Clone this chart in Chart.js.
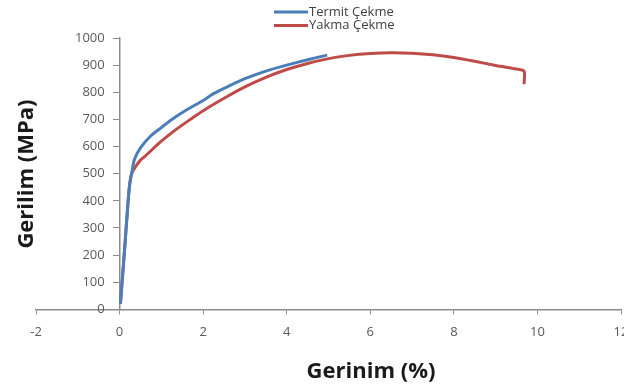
<!DOCTYPE html>
<html>
<head>
<meta charset="utf-8">
<script src="https://cdn.jsdelivr.net/npm/chart.js"></script>
<style>
  html, body { margin: 0; padding: 0; background: #fff; overflow: hidden; }
  #wrap { position: relative; width: 640px; height: 391px; }
</style>
</head>
<body>
<div id="wrap"><canvas id="chart"></canvas></div>
<script>
// Strain (%) / stress (MPa)
const termitStrain = [0.02, 0.12, 0.21, 0.25, 0.3, 0.35, 0.5, 0.75, 1.0, 1.25, 1.6, 2.0, 2.25, 2.6, 3.0, 3.5, 4.0, 4.5, 4.97];
const termitStress = [20, 220, 410, 470, 510, 550, 595, 640, 670, 700, 735, 770, 795, 822, 850, 878, 900, 920, 937];

const yakmaStrain = [0.02, 0.12, 0.21, 0.25, 0.3, 0.4, 0.5, 0.6, 0.8, 1.0, 1.3, 1.6, 2.0, 2.5, 3.0, 3.5, 4.0, 4.5, 5.0, 5.5, 6.0, 6.5, 7.0, 7.5, 8.0, 8.5, 9.0, 9.4, 9.68, 9.68];
const yakmaStress = [20, 220, 410, 470, 505, 530, 550, 563, 592, 620, 657, 690, 732, 778, 820, 855, 884, 906, 924, 936, 943, 946, 944, 938, 928, 914, 899, 888, 878, 830];

const seriesNames = ["Termit Çekme", "Yakma Çekme"];
const seriesColors = ["#4a7ebb", "#be4b48"];
const xTitle = "Gerinim (%)";
const yTitle = "Gerilim (MPa)";

function toPoints(xs, ys) {
  return xs.map((x, i) => ({ x: x, y: ys[i] }));
}

// Legend + axis titles drawn as text on the canvas
const extrasPlugin = {
  id: "extras",
  afterDraw(chart) {
    const ctx = chart.ctx;
    ctx.save();
    // legend
    seriesNames.forEach((name, i) => {
      const y = 12 + i * 13.5;
      ctx.strokeStyle = seriesColors[i];
      ctx.lineWidth = 3;
      ctx.beginPath();
      ctx.moveTo(274, y);
      ctx.lineTo(308, y);
      ctx.stroke();
      ctx.fillStyle = "#404040";
      ctx.font = "13px 'Open Sans'";
      ctx.textAlign = "left";
      ctx.textBaseline = "middle";
      ctx.fillText(name, 309, y);
    });
    // axis titles
    ctx.fillStyle = "#1a1a1a";
    ctx.font = "bold 22px 'Open Sans'";
    ctx.textAlign = "center";
    ctx.textBaseline = "middle";
    ctx.fillText(xTitle, 371, 372);
    ctx.translate(27, 174);
    ctx.rotate(-Math.PI / 2);
    ctx.fillText(yTitle, 0, 0);
    ctx.restore();
  }
};

const ctx = document.getElementById("chart").getContext("2d");
new Chart(ctx, {
  type: "scatter",
  data: {
    datasets: [
      {
        label: seriesNames[0],
        data: toPoints(termitStrain, termitStress),
        borderColor: seriesColors[0],
        backgroundColor: seriesColors[0],
        showLine: true,
        borderWidth: 3,
        pointRadius: 0,
        tension: 0.2,
      },
      {
        label: seriesNames[1],
        data: toPoints(yakmaStrain, yakmaStress),
        borderColor: seriesColors[1],
        backgroundColor: seriesColors[1],
        showLine: true,
        borderWidth: 3,
        pointRadius: 0,
        tension: 0.2,
      },
    ],
  },
  options: {
    responsive: true,
    maintainAspectRatio: false,
    animation: false,
    layout: { padding: { left: 36, top: 38, right: 19, bottom: 41 } },
    plugins: {
      legend: { display: false },
      tooltip: { enabled: false },
    },
    scales: {
      x: {
        type: "linear",
        min: -2,
        max: 12,
        grid: { drawOnChartArea: false, tickLength: 5, color: "#8c8c8c" },
        border: { color: "#8c8c8c", width: 1.5 },
        ticks: { stepSize: 2, padding: 10, color: "#595959", font: { family: "Open Sans", size: 13 } },
      },
      y: {
        type: "linear",
        min: 0,
        max: 1000,
        position: { x: 0 },
        grid: { drawOnChartArea: false, tickLength: 6, color: "#8c8c8c" },
        border: { color: "#8c8c8c", width: 1.5 },
        ticks: {
          stepSize: 100,
          color: "#595959",
          font: { family: "Open Sans", size: 13 },
          // labels sit on the axis when it is placed at x = 0, so pad with figure spaces
          callback: (v) => String(v) + "\u2007\u2007",
        },
      },
    },
  },
  plugins: [extrasPlugin],
});
</script>
</body>
</html>
